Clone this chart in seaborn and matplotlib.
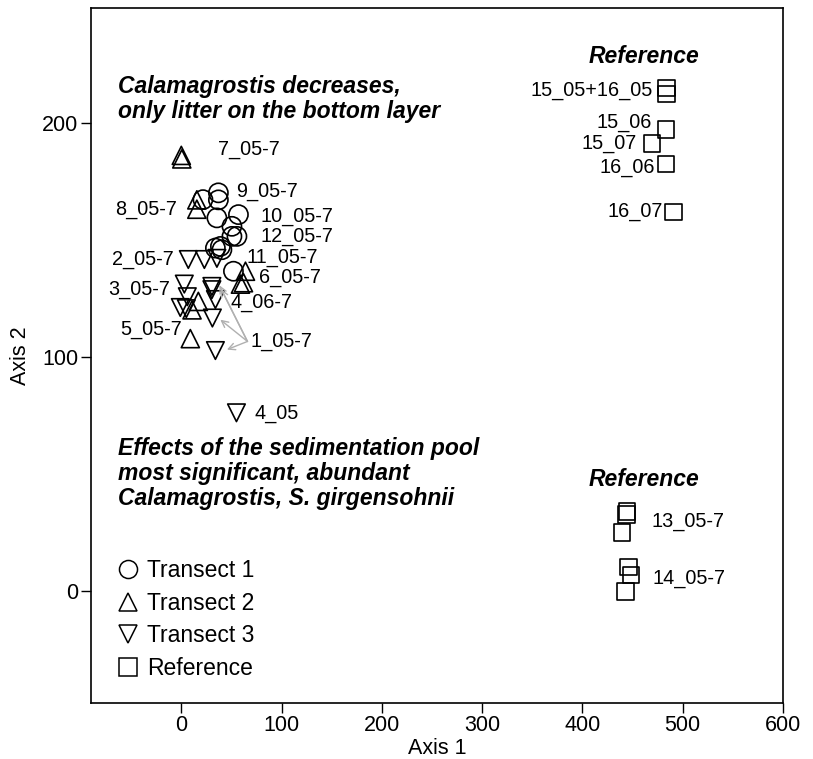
import matplotlib
matplotlib.use('Agg')
import matplotlib.pyplot as plt
import seaborn as sns
import pandas as pd
from matplotlib.lines import Line2D

# Ordination scores
t1_x = [21.6, 37.0, 37.0, 35.5, 57.0, 50.5, 50.5, 55.5, 34.0, 39.0, 40.5, 52.0]
t1_y = [167.1, 170.0, 167.0, 159.3, 160.7, 155.7, 151.4, 151.4, 146.4, 147.1, 145.7, 136.5]

t2_x = [0.0, 0.5, 15.5, 15.5, 64.0, 62.0, 59.0, 17.0, 10.7, 9.0]
t2_y = [186.0, 184.5, 167.0, 163.0, 136.5, 131.6, 131.0, 123.6, 120.0, 107.7]

t3_x = [7.0, 23.0, 35.5, 3.0, 30.5, 30.5, 6.0, 34.0, -1.0, 5.0, 31.0, 34.0, 55.0]
t3_y = [141.5, 141.5, 142.0, 131.0, 130.0, 128.6, 125.6, 124.4, 121.0, 120.5, 116.5, 102.6, 76.0]

ref_x = [483.8, 483.8, 483.5, 469.6, 483.6, 490.8, 444.3, 444.0, 439.4, 446.0, 448.7, 443.0]
ref_y = [214.8, 212.3, 197.0, 191.0, 182.3, 161.8, 33.9, 32.5, 24.9, 10.1, 6.8, -0.3]

groups = ['Transect 1', 'Transect 2', 'Transect 3', 'Reference']
markers = ['o', '^', 'v', 's']
sizes = [190, 170, 160, 140]

df = pd.concat([
    pd.DataFrame({'x': t1_x, 'y': t1_y, 'group': 'Transect 1'}),
    pd.DataFrame({'x': t2_x, 'y': t2_y, 'group': 'Transect 2'}),
    pd.DataFrame({'x': t3_x, 'y': t3_y, 'group': 'Transect 3'}),
    pd.DataFrame({'x': ref_x, 'y': ref_y, 'group': 'Reference'}),
])

# point labels: (text, x, y, ha)
labels = [
    ('7_05-7', 36.9, 188.5, 'left'),
    ('9_05-7', 54.8, 170.6, 'left'),
    ('8_05-7', -4.0, 162.8, 'right'),
    ('10_05-7', 79.4, 159.7, 'left'),
    ('12_05-7', 79.4, 151.2, 'left'),
    ('2_05-7', -8.0, 141.5, 'right'),
    ('11_05-7', 65.5, 142.2, 'left'),
    ('6_05-7', 77.7, 133.9, 'left'),
    ('3_05-7', -11.0, 128.6, 'right'),
    ('4_06-7', 48.8, 123.2, 'left'),
    ('5_05-7', 0.7, 111.5, 'right'),
    ('1_05-7', 68.8, 106.5, 'left'),
    ('4_05', 72.8, 75.9, 'left'),
    ('15_05+16_05', 470.4, 213.8, 'right'),
    ('15_06', 469.5, 200.0, 'right'),
    ('15_07', 454.5, 191.0, 'right'),
    ('16_06', 472.4, 180.8, 'right'),
    ('16_07', 480.4, 162.0, 'right'),
    ('13_05-7', 469.1, 29.6, 'left'),
    ('14_05-7', 470.4, 5.4, 'left'),
]

arrow_targets = [(38.0, 130.5), (39.5, 129.0), (38.9, 115.8), (45.5, 103.0)]

sns.set_style('ticks')
plt.rcParams['font.family'] = ['Liberation Sans', 'DejaVu Sans']
plt.rcParams['text.color'] = 'black'
plt.rcParams['axes.labelcolor'] = 'black'
plt.rcParams['xtick.color'] = 'black'
plt.rcParams['ytick.color'] = 'black'

fig = plt.figure(figsize=(8.13, 7.59), dpi=100)
ax = fig.add_axes([0.112, 0.0738, 0.851, 0.9157])

for g, m, s in zip(groups, markers, sizes):
    sub = df[df['group'] == g]
    sns.scatterplot(data=sub, x='x', y='y', marker=m, s=s, facecolor='none',
                    edgecolor='black', linewidth=1.2, ax=ax, legend=False)

for txt, x, y, ha in labels:
    ax.text(x, y, txt, ha=ha, va='center', fontsize=14.3)

for tx, ty in arrow_targets:
    ax.annotate('', xy=(tx, ty), xytext=(66.0, 106.5),
                arrowprops=dict(arrowstyle='->', color='#b0b0b0', lw=1.0,
                                shrinkA=0, shrinkB=0, mutation_scale=12))

note_kw = dict(fontsize=16.5, fontweight='bold', fontstyle='italic', linespacing=1.1)
ax.text(-62.8, 210.0, 'Calamagrostis decreases,\nonly litter on the bottom layer',
        va='center', ha='left', **note_kw)
ax.text(-62.8, 50.0, 'Effects of the sedimentation pool\nmost significant, abundant\nCalamagrostis, S. girgensohnii',
        va='center', ha='left', **note_kw)
ax.text(461.5, 228.3, 'Reference', ha='center', va='center', **note_kw)
ax.text(461.5, 47.4, 'Reference', ha='center', va='center', **note_kw)

handles = [Line2D([], [], marker=m, linestyle='none', markerfacecolor='none',
                  markeredgecolor='black', markersize=13, markeredgewidth=1.1)
           for m in markers]
ax.legend(handles, groups, loc='upper left', bbox_to_anchor=(0.04, 0.207),
          frameon=False, fontsize=16.5, handlelength=0.8, handletextpad=0.45,
          labelspacing=0.42, borderpad=0, borderaxespad=0)

ax.set_xlim(-90, 600)
ax.set_ylim(-48, 249)
ax.set_xticks([0, 100, 200, 300, 400, 500, 600])
ax.set_yticks([0, 100, 200])
ax.tick_params(labelsize=15.5, length=7, width=1, direction='out', pad=2)
ax.set_xlabel('Axis 1', fontsize=15.5, labelpad=1)
ax.set_ylabel('Axis 2', fontsize=15.5, labelpad=8)
for sp in ax.spines.values():
    sp.set_linewidth(1.2)
    sp.set_color('black')

fig.savefig('out.png', dpi=100)
